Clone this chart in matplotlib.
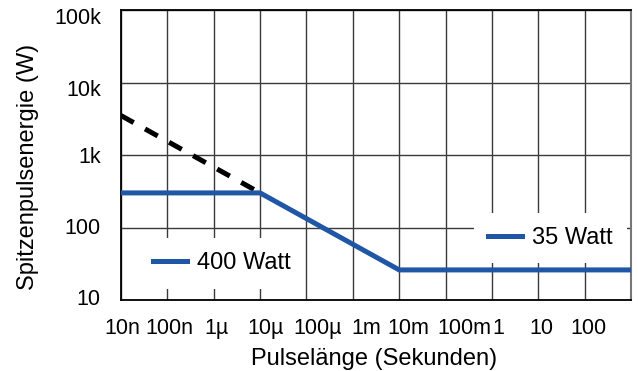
import matplotlib
matplotlib.use("Agg")
import matplotlib.pyplot as plt
import matplotlib.transforms as mtransforms
from matplotlib.lines import Line2D

# ---- data ----
x_ticks = [1e-8, 1e-7, 1e-6, 1e-5, 1e-4, 1e-3, 1e-2, 1e-1, 1, 10, 100]
x_tick_labels = ["10n", "100n", "1µ", "10µ", "100µ", "1m", "10m", "100m", "1", "10", "100"]
y_ticks = [10, 100, 1e3, 1e4, 1e5]
y_tick_labels = ["10", "100", "1k", "10k", "100k"]

curve_x = [1e-8, 1e-5, 1e-2, 1e3]        # 400 W / 35 W limit curve
curve_y = [300, 300, 26, 26]
dash_x = [1e-8, 1e-5]                    # extension of slope
dash_y = [3500, 300]

legend_labels = ["400 Watt", "35 Watt"]

# ---- styling / layout ----
W, H = 638, 371
BLUE = "#1f56a6"
x_label_dx = [1, 2, 3, 5, 11, 13, 9, 19, 6, 3, 4]   # px label nudges
y_label_dy = [-3, -1, 0, 5, 6]                        # px, positive = down

plt.rcParams['font.family'] = ['Liberation Sans', 'DejaVu Sans']
fig = plt.figure(figsize=(W / 100, H / 100), dpi=100)
ax = fig.add_axes([121 / W, 1 - 300 / H, (631 - 121) / W, (300 - 10) / H])
ax.set_xscale('log')
ax.set_yscale('log')
ax.set_xlim(1e-8, 1e3)
ax.set_ylim(10, 1e5)

ax.plot(dash_x, dash_y, color='black', lw=3.6, dashes=(2.9, 2.6),
        solid_capstyle='butt', dash_capstyle='butt', zorder=3)
ax.plot(curve_x, curve_y, color=BLUE, lw=3.6, solid_joinstyle='miter', zorder=4)

ax.set_axisbelow(True)
ax.grid(True, which='major', color='#3a3a3a', lw=1.0)
ax.minorticks_off()
ax.set_xticks(x_ticks)
ax.set_xticklabels(x_tick_labels)
ax.set_yticks(y_ticks)
ax.set_yticklabels(y_tick_labels)
ax.tick_params(axis='both', length=0)
ax.tick_params(axis='x', pad=13)
ax.tick_params(axis='y', pad=14.5)
tick_font = ['Liberation Sans Narrow', 'Liberation Sans']
for lab, dx in zip(ax.get_xticklabels(), x_label_dx):
    lab.set_family(tick_font)
    lab.set_fontsize(15.5)
    lab.set_transform(lab.get_transform() + mtransforms.ScaledTranslation(dx / 100, 0, fig.dpi_scale_trans))
for lab, dy in zip(ax.get_yticklabels(), y_label_dy):
    lab.set_family(tick_font)
    lab.set_fontsize(15.5)
    lab.set_transform(lab.get_transform() + mtransforms.ScaledTranslation(0, -dy / 100, fig.dpi_scale_trans))

for side in ['left', 'bottom', 'top']:
    ax.spines[side].set_color('black')
    ax.spines[side].set_linewidth(1.3)
ax.spines['right'].set_color('#777777')
ax.spines['right'].set_linewidth(1.5)

fig.text(374.5 / W, 1 - 358.5 / H, "Pulselänge (Sekunden)", ha='center', va='center', fontsize=17)
fig.text(28 / W, 1 - 167 / H, "Spitzenpulsenergie (W)", ha='center', va='center', rotation=90, fontsize=17)

leg_kw = dict(frameon=True, facecolor='white', edgecolor='none', framealpha=1,
              fontsize=17, handlelength=1.44, handletextpad=0.42, borderpad=0.6,
              borderaxespad=0, fancybox=False, loc='center left')
h1 = Line2D([], [], color=BLUE, lw=3.6)
leg1 = ax.legend([h1], [legend_labels[0]], bbox_to_anchor=(0.0353, 0.1259), **leg_kw)
ax.add_artist(leg1)
h2 = Line2D([], [], color=BLUE, lw=3.6)
leg2 = ax.legend([h2], [legend_labels[1]], bbox_to_anchor=(0.692, 0.2138), **leg_kw)

fig.savefig("out.png", dpi=100)
